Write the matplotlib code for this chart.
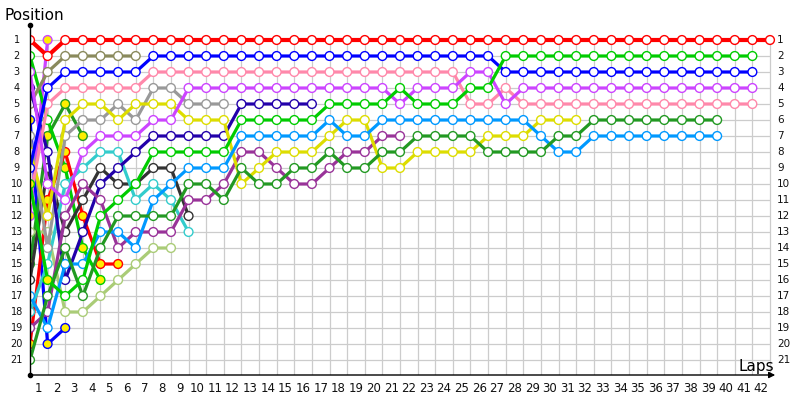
import matplotlib
matplotlib.use("Agg")
import matplotlib.pyplot as plt
import numpy as np

# -------------------------
# DATA (position per lap, lap 0 = grid)
# -------------------------
laps = list(range(0, 43))
positions = list(range(1, 22))

red_a = [1, 2, 1, 1, 1, 1, 1, 1, 1, 1, 1, 1, 1, 1, 1, 1, 1, 1, 1, 1, 1, 1,
         1, 1, 1, 1, 1, 1, 1, 1, 1, 1, 1, 1, 1, 1, 1, 1, 1, 1, 1, 1, 1]
green_b = [10, 16, 17, 16, 12, 11, 10, 8, 8, 8, 8, 8, 6, 6, 6, 6, 6, 5, 5, 5, 5,
           4, 5, 5, 5, 4, 4, 2, 2, 2, 2, 2, 2, 2, 2, 2, 2, 2, 2, 2, 2, 2]
blue_a = [9, 4, 3, 3, 3, 3, 3, 2, 2, 2, 2, 2, 2, 2, 2, 2, 2, 2, 2, 2, 2,
          2, 2, 2, 2, 2, 2, 3, 3, 3, 3, 3, 3, 3, 3, 3, 3, 3, 3, 3, 3, 3]
magenta_a = [3, 10, 11, 8, 7, 7, 7, 6, 6, 4, 4, 4, 4, 4, 4, 4, 4, 4, 4, 4, 4,
             5, 4, 4, 4, 3, 3, 5, 4, 4, 4, 4, 4, 4, 4, 4, 4, 4, 4, 4, 4, 4]
pink = [11, 5, 4, 4, 4, 4, 4, 3, 3, 3, 3, 3, 3, 3, 3, 3, 3, 3, 3, 3, 3,
        3, 3, 3, 3, 5, 5, 4, 5, 5, 5, 5, 5, 5, 5, 5, 5, 5, 5, 5, 5, 5]
dark_green_b = [21, 17, 14, 17, 14, 12, 12, 12, 12, 10, 10, 11, 9, 10, 10, 9, 9, 8, 9, 9,
                8, 8, 7, 7, 7, 7, 8, 8, 8, 8, 7, 7, 6, 6, 6, 6, 6, 6, 6, 6]
light_blue = [17, 19, 15, 15, 13, 13, 14, 11, 10, 9, 9, 9, 7, 7, 7, 7, 7, 6, 7, 7,
              6, 6, 6, 6, 6, 6, 6, 6, 6, 7, 8, 8, 7, 7, 7, 7, 7, 7, 7, 7]
yellow = [8, 12, 6, 5, 5, 6, 5, 5, 5, 6, 6, 6, 10, 9, 8, 8, 8, 7, 6, 6,
          9, 9, 8, 8, 8, 8, 7, 7, 7, 6, 6, 6]
dark_purple = [19, 18, 12, 10, 11, 14, 13, 13, 13, 11, 11, 10, 8, 8, 9, 10, 10, 9, 8, 8, 7, 7]
dark_blue = [4, 8, 16, 13, 10, 9, 8, 7, 7, 7, 7, 7, 5, 5, 5, 5, 5]
gray = [7, 14, 7, 6, 6, 5, 6, 4, 4, 5, 5, 5]
olive = [5, 3, 2, 2, 2, 2, 2]
dark_gray = [16, 9, 13, 11, 9, 10, 10, 9, 9, 12]
cyan = [18, 15, 10, 9, 8, 8, 11, 10, 11, 13]
light_green = [13, 13, 18, 18, 17, 16, 15, 14, 14]
green_a = [2, 6, 9, 14, 16]
red_b = [20, 11, 8, 12, 15, 15]
dark_green_a = [15, 7, 5, 7]
blue_b = [6, 20, 19]
magenta_b = [12, 1]

# laps where the marker is filled yellow
yellow_laps = {
    "red_b": [0, 1, 2, 3, 4, 5],
    "green_a": [2, 3, 4],
    "green_b": [0, 1],
    "magenta_b": [0, 1],
    "blue_b": [0, 1, 2],
    "dark_green_a": [0, 1, 2, 3],
}

# drawn back to front
series = [
    ("magenta_b", magenta_b, "#cc44ff"),
    ("blue_b", blue_b, "#0000ff"),
    ("dark_green_a", dark_green_a, "#229922"),
    ("green_a", green_a, "#00cc00"),
    ("red_b", red_b, "#ff0000"),
    ("olive", olive, "#8a8a5c"),
    ("light_green", light_green, "#aacc77"),
    ("dark_gray", dark_gray, "#333333"),
    ("cyan", cyan, "#33cccc"),
    ("gray", gray, "#999999"),
    ("dark_blue", dark_blue, "#2200aa"),
    ("dark_purple", dark_purple, "#993399"),
    ("yellow", yellow, "#dddd00"),
    ("light_blue", light_blue, "#0099ff"),
    ("dark_green_b", dark_green_b, "#229922"),
    ("pink", pink, "#ff88aa"),
    ("magenta_a", magenta_a, "#cc44ff"),
    ("blue_a", blue_a, "#0000ff"),
    ("green_b", green_b, "#00cc00"),
    ("red_a", red_a, "#ff0000"),
]

# -------------------------
# FIGURE
# -------------------------
fig = plt.figure(figsize=(8, 4), dpi=100)
ax = fig.add_axes([30 / 800, 25 / 400, 748 / 800, 350 / 400])
ax.set_xlim(0, 748 / 740 * 42)
ax.set_ylim(1 + 335 / 16, 1 - 15 / 16)
ax.axis("off")

grid_c = "#cccccc"
ax.vlines(laps[1:], 1, ax.get_ylim()[0], color=grid_c, lw=0.9, zorder=0)
ax.hlines(positions, 0, laps[-1], color=grid_c, lw=0.9, zorder=0)

for i, (name, vals, col) in enumerate(series):
    x = np.arange(len(vals))
    lw = 3.0 if name == "red_a" else 2.3
    ax.plot(x, vals, color=col, lw=lw, zorder=2 + i * 0.01, solid_joinstyle="round")
    fills = ["#ffee00" if k in yellow_laps.get(name, []) else "white" for k in x]
    ax.scatter(x, vals, s=40, facecolors=fills, edgecolors=col, linewidths=1.0,
               zorder=2.005 + i * 0.01)

# axes lines
ybot = ax.get_ylim()[0]
ax.plot([0, 0], [0.05, ybot], color="black", lw=1.0, clip_on=False, zorder=5)
ax.plot([0], [0.05], marker="o", ms=3, color="black", clip_on=False, zorder=5)
ax.plot([0], [ybot], marker="o", ms=3, color="black", clip_on=False, zorder=5)
ax.annotate("", xy=(748 / 740 * 42, ybot), xytext=(0, ybot),
            arrowprops=dict(arrowstyle="-|>", color="black", lw=1.0, mutation_scale=9),
            annotation_clip=False, zorder=5)

# labels
for k in laps[1:]:
    ax.text(k - 0.5, ybot + 0.85, str(k), ha="center", va="center", fontsize=8.5,
            color="#111111", clip_on=False)
for p in positions:
    ax.text(-0.75, p, str(p), ha="center", va="center", fontsize=7, color="#111111",
            clip_on=False)
    ax.text(42.4, p, str(p), ha="left", va="center", fontsize=7.5, color="#111111",
            clip_on=False)

fig.text(5 / 800, 1 - 15 / 400, "Position", ha="left", va="center", fontsize=11)
fig.text(774 / 800, 1 - 366 / 400, "Laps", ha="right", va="center", fontsize=11)

fig.savefig("out.png", dpi=100)
